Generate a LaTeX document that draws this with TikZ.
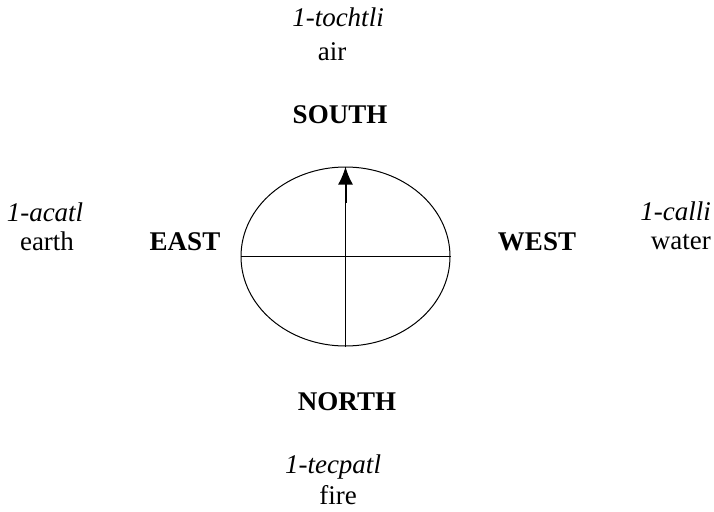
\documentclass[tikz,border=0pt]{standalone}
\usepackage{fontspec}
\setmainfont{Liberation Serif}
\usetikzlibrary{shapes.geometric,arrows.meta,calc}

\tikzset{
  label text/.style={font=\fontsize{27}{30}\selectfont, anchor=base, inner sep=0pt},
  sign text/.style={label text, font=\fontsize{27}{30}\selectfont\itshape},
  point text/.style={label text, font=\fontsize{27}{30}\selectfont\bfseries},
}

\begin{document}
\begin{tikzpicture}[x=1pt, y=-1pt, >=Latex]
        \useasboundingbox (0,0) rectangle (714,511);

        % Disc with its cross and arrow
        \node[draw, ellipse, line width=1pt, inner sep=0pt, minimum width=209pt, minimum height=179pt] (disc) at (345.5,256.5) {};
        \draw[line width=1pt] (disc.west) -- (disc.east);
        \draw[line width=1pt] (disc.south) -- (disc.north);
        \coordinate (stub) at ($(disc.north)+(0,36)$);
        \draw[line width=2pt, -{Latex[length=18pt, width=15pt]}] (stub) -- (disc.north);

        % Cardinal points
        \node[point text] (south) at (340,123) {SOUTH};
        \node[point text] (north) at (347,410) {NORTH};
        \node[point text] (east) at (185,250) {EAST};
        \node[point text] (west) at (537,250) {WEST};

        % Day signs and elements
        \node[sign text] (tochtli) at (338,27) {1-tochtli};
        \node[label text] (air) at (332,60) {air};
        \node[sign text] (tecpatl) at (333,473) {1-tecpatl};
        \node[label text] (fire) at (338,504) {fire};
        \node[sign text] (acatl) at (45,221) {1-acatl};
        \node[label text] (earth) at (47,250) {earth};
        \node[sign text, anchor=base east] (calli) at (711,220) {1-calli};
        \node[label text, anchor=base east] (water) at (711,249) {water};
\end{tikzpicture}
\end{document}
